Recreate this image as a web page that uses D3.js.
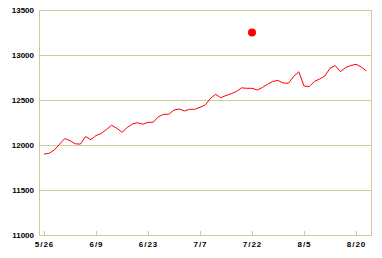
<!DOCTYPE html>
<html>
<head>
<meta charset="utf-8">
<script src="https://cdn.jsdelivr.net/npm/d3@7"></script>
<style>
  body { margin: 0; background: #fff; }
  text { font-family: "Liberation Sans", Arial, sans-serif; font-size: 8px; font-weight: bold; fill: #000; }
</style>
</head>
<body>
<div id="chart"></div>
<script>
// daily closes, one per trading day
var closes = [
  11900, 11908, 11945, 12010, 12072, 12048, 12013, 12010, 12095, 12059,
  12105, 12128, 12172, 12219, 12186, 12141, 12194, 12233, 12248, 12231,
  12252, 12252, 12314, 12341, 12341, 12388, 12400, 12378, 12397, 12397,
  12419, 12444, 12517, 12563, 12526, 12550, 12570, 12594, 12635, 12630,
  12630, 12611, 12639, 12675, 12706, 12717, 12689, 12686, 12761, 12814,
  12656, 12648, 12706, 12733, 12767, 12852, 12883, 12814, 12861, 12883,
  12897, 12867, 12822
];

// x axis labels (every 10 trading days)
var tickIndex = [0, 10, 20, 30, 40, 50, 60];
var tickLabels = ["5/26", "6/9", "6/23", "7/7", "7/22", "8/5", "8/20"];

// y axis
var yTicks = [11000, 11500, 12000, 12500, 13000, 13500];

// highlighted point
var markIndex = 40,
    markValue = 13250;

var width = 382,
    height = 258,
    margin = {top: 10, right: 11, bottom: 23, left: 39};

var svg = d3.select("#chart")
    .append("svg")
    .attr("width", width)
    .attr("height", height);

var x = d3.scaleLinear()
    .domain([0, closes.length - 1])
    .range([44, 366.4]);

var y = d3.scaleLinear()
    .domain([11000, 13500])
    .range([height - margin.bottom, margin.top]);

var gridColor = "#cccc99";

// horizontal grid
svg.append("g")
    .selectAll("line")
    .data(yTicks)
    .join("line")
    .attr("x1", margin.left)
    .attr("x2", width - margin.right)
    .attr("y1", d => Math.round(y(d)) + 0.5)
    .attr("y2", d => Math.round(y(d)) + 0.5)
    .attr("stroke", gridColor)
    .attr("shape-rendering", "crispEdges");

// left and right borders
svg.append("g")
    .selectAll("line")
    .data([margin.left, width - margin.right])
    .join("line")
    .attr("x1", d => d + 0.5)
    .attr("x2", d => d + 0.5)
    .attr("y1", margin.top)
    .attr("y2", height - margin.bottom + 1)
    .attr("stroke", gridColor)
    .attr("shape-rendering", "crispEdges");

// x ticks pointing up
svg.append("g")
    .selectAll("line")
    .data(tickIndex)
    .join("line")
    .attr("x1", d => Math.round(x(d)) + 0.5)
    .attr("x2", d => Math.round(x(d)) + 0.5)
    .attr("y1", y(11000) - 4)
    .attr("y2", y(11000))
    .attr("stroke", gridColor)
    .attr("shape-rendering", "crispEdges");

// y labels
svg.append("g")
    .selectAll("text")
    .data(yTicks)
    .join("text")
    .attr("x", 34)
    .attr("y", d => y(d) + 3)
    .attr("text-anchor", "end")
    .text(d => d);

// x labels
svg.append("g")
    .selectAll("text")
    .data(tickIndex)
    .join("text")
    .attr("x", d => x(d) + 0.5)
    .attr("y", 246.5)
    .attr("text-anchor", "middle")
    .attr("letter-spacing", "1px")
    .text((d, i) => tickLabels[i]);

// price line
var line = d3.line()
    .x((d, i) => x(i))
    .y(d => y(d));

svg.append("path")
    .datum(closes)
    .attr("d", line)
    .attr("fill", "none")
    .attr("stroke", "#ff0000")
    .attr("stroke-width", 1);

// red dot
svg.append("circle")
    .attr("cx", x(markIndex))
    .attr("cy", y(markValue))
    .attr("r", 4)
    .attr("fill", "#ff0000");
</script>
</body>
</html>
